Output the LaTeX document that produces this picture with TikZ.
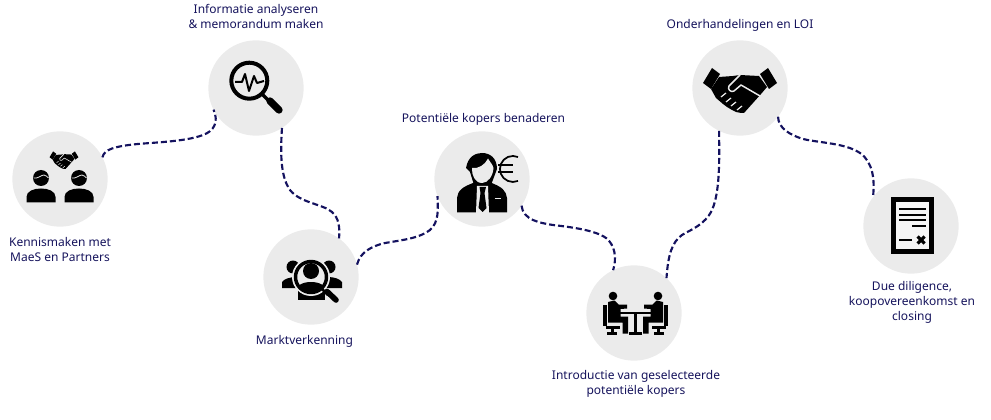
\documentclass[tikz,border=0pt]{standalone}
\usepackage{fontspec}
\setmainfont{Noto Sans}
\definecolor{routeblue}{HTML}{14125F}
\definecolor{labelblue}{HTML}{15135C}
\definecolor{discgrey}{HTML}{EBEBEB}
\newcommand{\drawhandshake}[3]{
	\begin{scope}[shift={(#1,#2)}, scale=#3]
		\fill (-37,-7) -- (-28,-22) -- (-20,-16) -- (-29,-1) -- cycle;
		\fill (37,-7) -- (28,-22) -- (20,-16) -- (29,-1) -- cycle;
		\fill (-21,-13) -- (-7,-14) -- (0,-15) -- (19,-14) -- (27,-3) -- (21,4) -- (4,23) -- (1,23) -- (-4,22)
			-- (-8,20) -- (-13,17) -- (-17,14) -- (-24,8) -- (-29,-1) -- cycle;
		\draw [discgrey, line width=#3*1.1pt, line join=round]
			(0,-15) -- (-11,-4) .. controls (-13,-1) and (-9,3) .. (-6,1) -- (1,-5) -- (20,6);
		\foreach \sx/\sy in {-19/7, -14/12, -9/16, -3/20}
			\draw [discgrey, line width=#3*0.9pt] (\sx,\sy) -- ++(5,-4);
	\end{scope}
}
\newcommand{\drawperson}[2]{
	\begin{scope}[shift={(#1,#2)}]
		\fill (0,0) circle [radius=8];
		\fill (-14.5,24.5) -- (-14.5,19) .. controls (-14.5,13) and (-7,10.5) .. (0,10.5)
			.. controls (7,10.5) and (14.5,13) .. (14.5,19) -- (14.5,24.5) -- cycle;
		\draw [discgrey, line width=0.6pt] (-7.5,0) .. controls (-3,1) and (0,-3) .. (3,-3) .. controls (5,-3) and (6,-1) .. (7.5,0);
	\end{scope}
}
\newcommand{\drawsitter}[1]{
	\begin{scope}[shift={(635.5,0)}, xscale=#1]
		\fill (-22.5,296) circle [radius=4.3];
		\draw [line width=3pt] (-30.5,305) -- (-30.5,326);
		\draw [line width=2pt] (-30,327.5) -- (-16,327.5) (-23,328) -- (-23,333);
		\draw [line width=2.4pt] (-28.5,333.5) -- (-18.5,333.5);
		\fill (-27.5,302) -- (-21,300.5) -- (-17,304.5) -- (-8.5,304.5) -- (-8.5,308.5) -- (-15,309) -- (-15,316.5)
			-- (-7.5,316.5) -- (-7.5,333.5) -- (-13,333.5) -- (-13,322.5) -- (-27.5,322.5) -- cycle;
	\end{scope}
}
\begin{document}
\begin{tikzpicture} [
		x=0.75pt, y=-0.75pt,
		stepdisc/.style={circle, fill=discgrey, minimum size=71.5pt, inner sep=0pt, outer sep=0pt},
		steplabel/.style={text=labelblue, align=center, inner sep=0pt, font=\fontsize{9}{11.25}\selectfont},
		route/.style={draw=routeblue, line width=1.6pt, dash pattern=on 4.5pt off 2.25pt}
	]
	\useasboundingbox (0,0) rectangle (991,420);

	\node at (60,179)  [stepdisc] (kennis) {};
	\node at (256,88)  [stepdisc] (analyse) {};
	\node at (311,277) [stepdisc] (markt) {};
	\node at (482,179) [stepdisc] (kopers) {};
	\node at (634,313) [stepdisc] (intro) {};
	\node at (740,88)  [stepdisc] (onderhandel) {};
	\node at (911,226) [stepdisc] (closing) {};

	\node at (60,250)    [steplabel] (kennislabel) {Kennismaken met\\MaeS en Partners};
	\node at (256,16)    [steplabel] (analyselabel) {Informatie analyseren\\\& memorandum maken};
	\node at (304.5,341) [steplabel] (marktlabel) {Marktverkenning};
	\node at (483.5,119) [steplabel] (benaderlabel) {Potentiële kopers benaderen};
	\node at (636,384)   [steplabel] (introlabel) {Introductie van geselecteerde\\potentiële kopers};
	\node at (740,25)    [steplabel] (onderhandellabel) {Onderhandelingen en LOI};
	\node at (912,302)   [steplabel] (closinglabel) {Due diligence,\\koopovereenkomst en\\closing};

	\draw [route] (kennis.27) .. controls (104,149) and (116,146.5) .. (133,144.5)
		.. controls (150,142.5) and (185,142) .. (203,135)
		.. controls (214,131) and (219,122) .. (analyse.207);
	\draw [route] (analyse.-57) .. controls (281,145) and (279,175) .. (290,190)
		.. controls (300,203) and (323,204) .. (332,212)
		.. controls (339,218) and (340,228) .. (markt.54);
	\draw [route] (markt.15) .. controls (360,252) and (372,246) .. (385,243)
		.. controls (403,240) and (420,238) .. (430,230)
		.. controls (439,222) and (438,210) .. (kopers.201);
	\draw [route] (kopers.-34) .. controls (523,220) and (540,223) .. (553,225)
		.. controls (570,227) and (595,230) .. (606,238)
		.. controls (615,245) and (617,258) .. (intro.116);
	\draw [route] (onderhandel.244) .. controls (719,150) and (721,190) .. (712,210)
		.. controls (705,225) and (690,230) .. (682,235)
		.. controls (672,242) and (668,255) .. (intro.47);
	\draw [route] (onderhandel.-37) .. controls (778,128) and (790,135) .. (803,139)
		.. controls (820,143) and (845,143) .. (860,153)
		.. controls (873,162) and (875,180) .. (closing.143);

	% kennismaken
	\drawhandshake{64}{160}{0.39}
	\drawperson{41}{178}
	\drawperson{79}{178}

	% analyse
	\draw [line width=3pt] (249.3,80.7) circle [radius=18];
	\draw [line width=1.5pt, line join=round] (235,82) -- (242,82) -- (245,74) -- (249,91) -- (254,76) -- (257,83) -- (264,81);
	\draw [line width=2.5pt] (262,94) -- (270,102);
	\draw [line width=5.5pt, line cap=round] (270,101) -- (279,110);

	% markt
	\fill (293,267) circle [radius=6.5];
	\fill (329,267) circle [radius=6.5];
	\fill (282,288) -- (282,282) .. controls (284,279) and (290,277) .. (296,277) -- (300,288) -- cycle;
	\fill (342,288) -- (342,282) .. controls (340,279) and (334,277) .. (328,277) -- (324,288) -- cycle;
	\fill (298,299.5) -- (298,290) -- (325,290) -- (325,299.5) -- cycle;
	\fill [discgrey] (311,277) circle [radius=19];
	\draw [line width=2.6pt] (311,277) circle [radius=15.5];
	\fill (311,271) circle [radius=8];
	\begin{scope}
		\clip (311,277) circle [radius=15];
		\fill (295,294) .. controls (295,285) and (303,282) .. (311,282)
			.. controls (319,282) and (327,285) .. (327,294) -- cycle;
	\end{scope}
	\draw [line width=2pt] (321,288) -- (328,295);
	\draw [line width=4.2pt, line cap=round] (327,291.5) -- (336,300);

	% kopers
	\fill (457,212.5) -- (457,198) .. controls (458,191) and (461,187) .. (476,182) -- (489,182)
		.. controls (503,187) and (506,191) .. (507,198) -- (507,212.5) -- cycle;
	\fill [discgrey] (477,186) -- (488,186) -- (489,213) -- (476,213) -- cycle;
	\fill (479.5,187) -- (486,187) -- (484.5,193) -- (486.5,208) -- (482.5,212) -- (478.5,208) -- (480.5,193) -- cycle;
	\draw [discgrey, line width=0.9pt] (494.5,198.5) -- (501,198.5);
	\fill (466,168) .. controls (468,156) and (476,153) .. (482,153)
		.. controls (490,153) and (497,158) .. (497,169) -- (491,185) -- (474,185) -- (470,172) -- cycle;
	\fill [discgrey] (482,183) .. controls (475,183) and (471.5,175) .. (472,168)
		.. controls (478,169) and (485,165) .. (488,158.5) .. controls (490,162) and (493,165) .. (493.5,168)
		.. controls (493,176) and (488,183) .. (482,183) -- cycle;
	\draw [line width=1.3pt] (518,157) arc [start angle=-67, end angle=-293, radius=13];
	\draw [line width=1.3pt] (498,165) -- (513,165) (498,172) -- (513,172);

	% intro
	\drawsitter{1}
	\drawsitter{-1}
	\draw [line width=1.8pt] (620,313) -- (651,313);
	\draw [line width=2.2pt] (635.5,313) -- (635.5,333);
	\draw [line width=2.2pt] (629,333.5) -- (642,333.5);

	% onderhandelingen
	\drawhandshake{740}{90}{1}

	% closing
	\draw [line width=3.4pt, fill=black!4!white] (893.3,199.3) rectangle (931.7,251.7);
	\foreach \ly in {209,215,220}
		\draw [line width=1.6pt] (899,\ly) -- (926,\ly);
	\draw [line width=1.6pt] (912,226) -- (926,226);
	\draw [line width=1.6pt] (899,240) -- (912,240);
	\draw [line width=2.4pt] (917.5,236.5) -- (924.5,243.5) (924.5,236.5) -- (917.5,243.5);
\end{tikzpicture}
\end{document}
